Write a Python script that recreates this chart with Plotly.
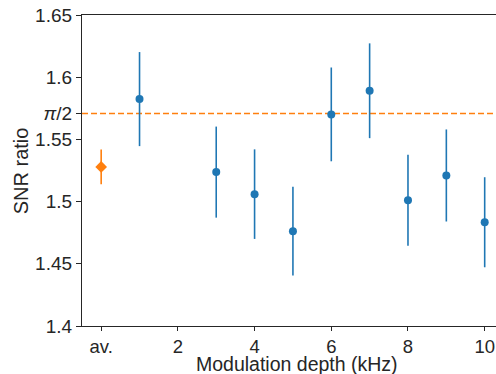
import math
import plotly.graph_objects as go

# Data
depth_khz = [1, 3, 4, 5, 6, 7, 8, 9, 10]
snr_ratio = [1.5824, 1.5237, 1.5060, 1.4762, 1.5701, 1.5891, 1.5011, 1.5210, 1.4834]
snr_err = [0.0378, 0.0366, 0.0360, 0.0357, 0.0377, 0.0381, 0.0365, 0.0370, 0.0362]

avg_x = [0]
avg_ratio = [1.5279]
avg_err = [0.0140]

ref_value = math.pi / 2

x_tickvals = [0, 2, 4, 6, 8, 10]
x_ticktext = ["av.", "2", "4", "6", "8", "10"]
y_tickvals = [1.4, 1.45, 1.5, 1.55, ref_value, 1.6, 1.65]
y_ticktext = ["1.4", "1.45", "1.5", "1.55", "<i>π</i>/2", "1.6", "1.65"]

BLUE = "#1f77b4"
ORANGE = "#ff7f0e"
INK = "#262626"
FONT = "Liberation Sans, Arial, sans-serif"

fig = go.Figure()

fig.add_trace(go.Scatter(
    x=depth_khz, y=snr_ratio, mode="markers",
    marker=dict(color=BLUE, size=8, symbol="circle"),
    error_y=dict(type="data", array=snr_err, visible=True, color=BLUE, thickness=1.6, width=0),
    showlegend=False,
))
fig.add_trace(go.Scatter(
    x=avg_x, y=avg_ratio, mode="markers",
    marker=dict(color=ORANGE, size=9, symbol="diamond"),
    error_y=dict(type="data", array=avg_err, visible=True, color=ORANGE, thickness=1.6, width=0),
    showlegend=False,
))

fig.add_shape(type="line", xref="paper", yref="y", x0=0, x1=1, y0=ref_value, y1=ref_value,
              line=dict(color=ORANGE, width=1.6, dash="6px,3px"), layer="below")

fig.add_annotation(text="Modulation depth (kHz)", xref="paper", yref="paper",
                   x=0.519, y=-0.121, xanchor="center", yanchor="middle",
                   showarrow=False, font=dict(size=19.5, color=INK))
fig.add_annotation(text="SNR ratio", xref="paper", yref="paper",
                   x=-0.147, y=0.498, xanchor="center", yanchor="middle", textangle=-90,
                   showarrow=False, font=dict(size=20, color=INK))

fig.update_layout(
    width=496, height=374,
    margin=dict(l=82, r=0, t=15, b=48),
    paper_bgcolor="white", plot_bgcolor="white",
    font=dict(family=FONT, size=19, color=INK),
    xaxis=dict(
        range=[-0.5, 10.295],
        tickvals=x_tickvals, ticktext=x_ticktext,
        showgrid=False, zeroline=False,
        showline=True, linecolor=INK, linewidth=1.2, mirror=True,
        ticks="outside", ticklen=4, tickwidth=1.2, tickcolor=INK,
        tickfont=dict(size=18.5),
    ),
    yaxis=dict(
        range=[1.4, 1.65],
        tickvals=y_tickvals, ticktext=y_ticktext,
        showgrid=False, zeroline=False,
        showline=True, linecolor=INK, linewidth=1.2,
        ticks="outside", ticklen=5, tickwidth=1.2, tickcolor=INK,
        tickfont=dict(size=19),
    ),
)

fig.write_html(
    "out.html",
    config={"displayModeBar": False},
    post_script="document.body.style.margin='0';document.body.style.overflow='hidden';",
)
